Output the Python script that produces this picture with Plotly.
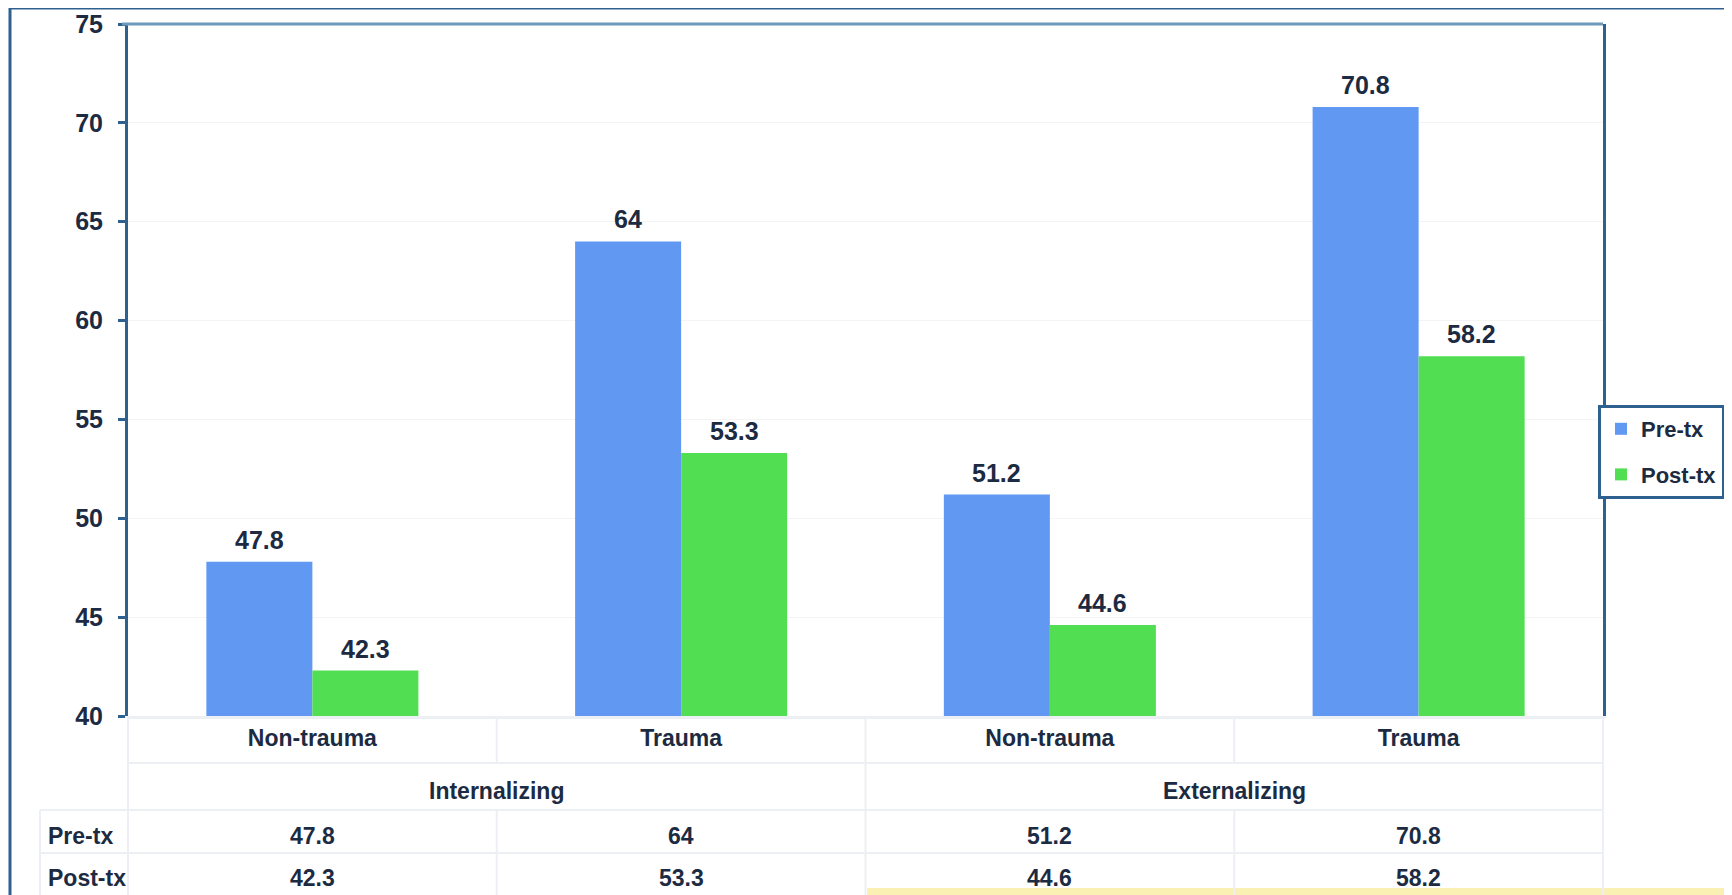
import plotly.graph_objects as go

groups = ["Internalizing", "Internalizing", "Externalizing", "Externalizing"]
categories = ["Non-trauma", "Trauma", "Non-trauma", "Trauma"]
pre_tx = [47.8, 64, 51.2, 70.8]
post_tx = [42.3, 53.3, 44.6, 58.2]
series_names = ["Pre-tx", "Post-tx"]
y_ticks = [40, 45, 50, 55, 60, 65, 70, 75]

W, H = 1732, 895
OFF = 8  # page body margin
# plot area in page pixels
PL, PR, PT, PB = 128, 1603, 24, 716
PW, PH = PR - PL, PB - PT
BARGAP = 0.425


def px(x):
    return (x - PL) / PW


def py(y):
    return (PB - y) / PH


TXT = "#1c2b42"
FONT = "Liberation Sans, Arial, sans-serif"
FRAME = "#2e6190"
FAINT = "#eceff3"

x_pos = list(range(len(categories)))

fig = go.Figure()
fig.add_trace(go.Bar(
    x=x_pos, y=pre_tx, name=f"<b>{series_names[0]}</b>",
    marker=dict(color="#6198f2", line=dict(width=0)),
    legendgroup="a",
))
fig.add_trace(go.Bar(
    x=x_pos, y=post_tx, name=f"<b>{series_names[1]}</b>",
    marker=dict(color="#52de52", line=dict(width=0)),
    legendgroup="b",
))

shapes = []
# outer slide frame
shapes.append(dict(type="line", xref="paper", yref="paper", x0=px(10), x1=px(10),
                   y0=py(8), y1=py(930), line=dict(color=FRAME, width=3)))
shapes.append(dict(type="line", xref="paper", yref="paper", x0=px(9), x1=px(1780),
                   y0=py(8), y1=py(8), line=dict(color=FRAME, width=3)))
# top of plot area
shapes.append(dict(type="line", xref="paper", yref="paper", x0=px(122), x1=1,
                   y0=1, y1=1, line=dict(color="#6f98bd", width=3)))
# table grid
n = len(categories)
col_edges = [i / n for i in range(n + 1)]
for yy, x0 in [(718, PL), (763, PL), (810, 40), (853, 40)]:
    shapes.append(dict(type="line", xref="paper", yref="paper", x0=px(x0), x1=1,
                       y0=py(yy), y1=py(yy), line=dict(color=FAINT, width=2)))
for i, xe in enumerate(col_edges):
    if i in (1, 3):
        shapes.append(dict(type="line", xref="paper", yref="paper", x0=xe, x1=xe,
                           y0=py(718), y1=py(763), line=dict(color=FAINT, width=2)))
        shapes.append(dict(type="line", xref="paper", yref="paper", x0=xe, x1=xe,
                           y0=py(810), y1=py(930), line=dict(color=FAINT, width=2)))
    else:
        shapes.append(dict(type="line", xref="paper", yref="paper", x0=xe, x1=xe,
                           y0=py(718), y1=py(930), line=dict(color=FAINT, width=2)))
shapes.append(dict(type="line", xref="paper", yref="paper", x0=px(40), x1=px(40),
                   y0=py(810), y1=py(930), line=dict(color=FAINT, width=2)))
# yellow strip at bottom right
shapes.append(dict(type="rect", xref="paper", yref="paper", x0=px(867), x1=px(1780),
                   y0=py(888), y1=py(930), fillcolor="#faf0b4", line=dict(width=0),
                   layer="below"))

annotations = []
# value labels above bars
bar_w = (1 - BARGAP) / 2
for k, vals in enumerate([pre_tx, post_tx]):
    shift = (k - 0.5) * bar_w
    for i, v in enumerate(vals):
        annotations.append(dict(text=f"<b>{v:g}</b>", xref="x", yref="y",
                                x=x_pos[i] + shift, y=v, yanchor="bottom", xanchor="center",
                                yshift=6, showarrow=False,
                                font=dict(size=25, color=TXT, family=FONT)))
# group labels centred under their categories
seen = []
for g in groups:
    if g not in seen:
        seen.append(g)
for g in seen:
    idx = [i for i, gg in enumerate(groups) if gg == g]
    annotations.append(dict(text=f"<b>{g}</b>", xref="x", yref="paper",
                            x=sum(idx) / len(idx), y=py(791), xanchor="center",
                            yanchor="middle", showarrow=False,
                            font=dict(size=23, color=TXT, family=FONT)))
for row_name, vals, yy in [(series_names[0], pre_tx, 836), (series_names[1], post_tx, 878)]:
    annotations.append(dict(text=f"<b>{row_name}</b>", xref="paper", yref="paper", x=px(46), y=py(yy),
                            xanchor="left", yanchor="middle", showarrow=False,
                            font=dict(size=23, color=TXT, family=FONT)))
    for i, v in enumerate(vals):
        annotations.append(dict(text=f"<b>{v:g}</b>", xref="x", yref="paper",
                                x=x_pos[i], y=py(yy), xanchor="center", yanchor="middle",
                                showarrow=False, font=dict(size=23, color=TXT, family=FONT)))

fig.update_layout(
    width=W, height=H,
    margin=dict(l=PL - OFF, r=W - (PR - OFF), t=PT - OFF, b=H - (PB - OFF), autoexpand=False),
    paper_bgcolor="white", plot_bgcolor="white",
    barmode="group", bargap=BARGAP, bargroupgap=0,
    font=dict(family=FONT, size=24, color=TXT),
    showlegend=True,
    legend=dict(x=px(1725), y=py(452), xanchor="right", yanchor="middle",
                bordercolor=FRAME, borderwidth=3, bgcolor="white",
                font=dict(size=22, color=TXT, family=FONT),
                tracegroupgap=14, itemsizing="constant", itemwidth=30),
    xaxis=dict(range=[-0.5, len(categories) - 0.5], tickvals=x_pos,
               ticktext=[f"<b>{c}</b>" for c in categories],
               showgrid=False, showline=True, linecolor=FAINT, linewidth=2,
               tickfont=dict(size=23, color=TXT, family=FONT), ticks="", zeroline=False),
    yaxis=dict(range=[40, 75], tickvals=y_ticks, ticktext=[f"<b>{t}</b>" for t in y_ticks],
               showgrid=True, gridcolor="#f4f4f4",
               showline=True, mirror=True, linecolor=FRAME, linewidth=3,
               ticks="outside", ticklen=7, tickcolor=FRAME, tickwidth=3,
               ticklabelstandoff=10,
               tickfont=dict(size=25, color=TXT, family=FONT), zeroline=False),
    shapes=shapes, annotations=annotations,
)

fig.write_html("out.html")
